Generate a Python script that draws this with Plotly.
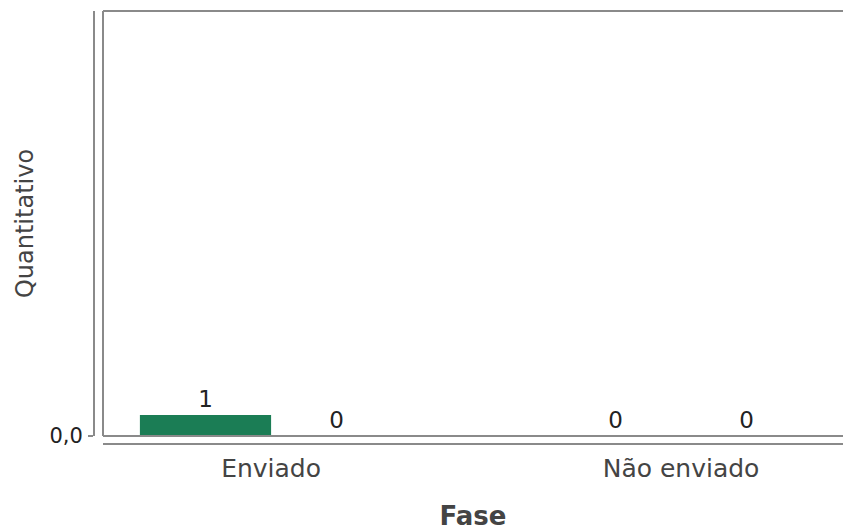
import plotly.graph_objects as go

categories = ["Enviado", "Não enviado"]
series_a = [1, 0]
series_b = [0, 0]
y_tick_vals = [0]
y_tick_text = ["0,0"]

W, H = 843, 531
px = lambda x: x / W
py = lambda y: (H - y) / H

x_left, x_right = 103, 843
y_top, y_bot = 11, 436
grey = "#8a8a8a"
txt = "#444444"
font = "DejaVu Sans"

xs = list(range(len(categories)))

fig = go.Figure()
fig.add_trace(go.Bar(x=xs, y=series_a, marker=dict(color="#1b7d55", line=dict(width=0)),
                     text=[str(v) for v in series_a], textposition="outside",
                     textfont=dict(family=font, size=23, color="#222222"), cliponaxis=False))
fig.add_trace(go.Bar(x=xs, y=series_b, marker=dict(color="#2b5aa8", line=dict(width=0)),
                     text=[str(v) for v in series_b], textposition="outside",
                     textfont=dict(family=font, size=23, color="#222222"), cliponaxis=False))

fig.update_layout(
    width=W, height=H, margin=dict(l=0, r=0, t=0, b=0, autoexpand=False),
    paper_bgcolor="white", plot_bgcolor="white", showlegend=False,
    barmode="group", bargap=0.36, bargroupgap=0,
    font=dict(family=font, color=txt),
    xaxis=dict(domain=[px(x_left), px(x_right)], anchor="free", position=py(444),
               range=[-0.41, 1.395], tickvals=xs, ticktext=categories, automargin=False,
               showline=True, linecolor=grey, linewidth=2, ticks="", showgrid=False,
               zeroline=False, tickfont=dict(size=25, color=txt), ticklabelstandoff=2,
               title=dict(text="<b>Fase</b>", font=dict(size=26, color=txt), standoff=45)),
    yaxis=dict(domain=[py(y_bot), py(y_top)], anchor="free", position=px(94),
               range=[0, 20.2], tickvals=y_tick_vals, ticktext=y_tick_text, automargin=False,
               showline=True, linecolor=grey, linewidth=2, ticks="outside", ticklen=5,
               tickcolor=grey, tickwidth=2, showgrid=False, zeroline=False,
               tickfont=dict(size=21, color="#222222"), ticklabelstandoff=1,
               title=dict(text="Quantitativo", font=dict(size=24, color=txt), standoff=8)),
    shapes=[
        dict(type="line", xref="paper", yref="paper", x0=px(x_left), x1=px(x_left),
             y0=py(y_bot), y1=py(y_top), line=dict(color=grey, width=2)),
        dict(type="line", xref="paper", yref="paper", x0=px(x_left), x1=1,
             y0=py(y_top), y1=py(y_top), line=dict(color=grey, width=2)),
        dict(type="line", xref="paper", yref="paper", x0=px(x_left), x1=1,
             y0=py(y_bot), y1=py(y_bot), line=dict(color=grey, width=2)),
    ],
)

fig.write_html("out.html", config={"displayModeBar": False},
               post_script="document.body.style.margin='0';document.body.style.overflow='hidden';")
